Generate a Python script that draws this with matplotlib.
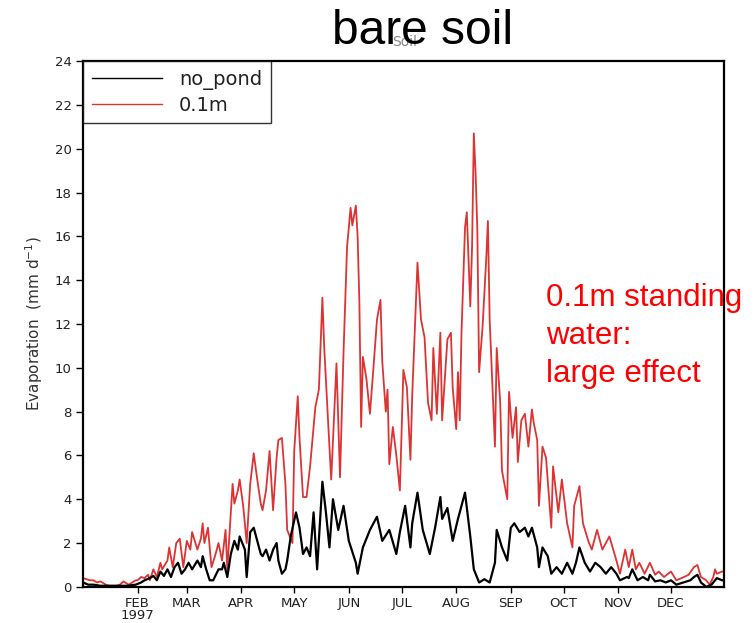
import matplotlib
matplotlib.use("Agg")
import matplotlib.pyplot as plt
from matplotlib import font_manager

# ---------------- data (1997, day-of-year index, 0 = 1 Jan) ----------------
red_days = [0, 2, 4, 6, 8, 10, 11, 13, 15, 17, 19, 21, 23, 25, 26, 28, 30, 31, 33, 35,
            37, 38, 40, 42, 44, 45, 48, 49, 51, 53, 55, 57, 59, 61, 62, 65, 67, 68, 69, 71,
            73, 75, 77, 79, 81, 82, 85, 86, 88, 89, 91, 93, 95, 97, 99, 101, 102, 104, 106, 108,
            110, 111, 113, 115, 116, 119, 120, 122, 123, 125, 127, 129, 132, 134, 136, 137, 139, 141, 143, 144,
            146, 148, 150, 152, 153, 155, 156, 157, 158, 159, 161, 163, 165, 167, 169, 170, 172, 173, 174, 176,
            178, 180, 182, 184, 186, 187, 190, 192, 194, 196, 198, 199, 201, 203, 204, 207, 209, 210, 212, 213,
            214, 215, 217, 218, 220, 221, 222, 223, 224, 225, 227, 229, 230, 231, 233, 234, 235, 237, 238, 241,
            242, 244, 246, 247, 249, 251, 253, 255, 256, 258, 259, 261, 263, 266, 267, 270, 272, 275, 278, 279,
            282, 284, 287, 289, 292, 295, 299, 303, 305, 308, 310, 312, 314, 316, 319, 322, 325, 327, 330, 334,
            337, 340, 344, 347, 349, 351, 354, 356, 358, 359, 360, 363, 364]
red_vals = [0.4, 0.35, 0.3, 0.3, 0.2, 0.25, 0.2, 0.1, 0.05, 0.05, 0.05, 0.1, 0.25, 0.15, 0.1, 0.2, 0.3, 0.3, 0.45, 0.4,
            0.55, 0.3, 0.8, 0.45, 1.1, 0.8, 1.2, 1.8, 0.9, 2.0, 2.2, 0.9, 2.1, 1.7, 2.5, 1.7, 2.2, 2.9, 2.0, 2.7,
            0.9, 1.4, 2.0, 1.2, 2.6, 0.8, 4.7, 3.8, 4.4, 4.9, 3.7, 2.0, 4.7, 6.1, 4.9, 3.8, 3.5, 4.4, 6.2, 3.5,
            5.9, 6.7, 6.8, 4.7, 2.6, 2.0, 6.2, 8.7, 6.8, 4.1, 4.1, 5.5, 8.2, 9.0, 13.2, 11.0, 7.9, 4.9, 8.5, 10.2,
            5.0, 10.7, 15.5, 17.3, 16.5, 17.4, 16.0, 13.0, 7.3, 10.5, 9.5, 7.9, 10.0, 12.2, 13.1, 10.3, 8.0, 9.0, 5.6, 7.3,
            6.0, 4.4, 9.9, 9.1, 5.8, 8.7, 14.8, 12.2, 11.4, 8.4, 7.6, 10.9, 7.9, 11.6, 7.6, 11.3, 11.6, 9.1, 7.2, 9.8,
            7.6, 11.6, 16.4, 17.1, 12.8, 15.5, 20.7, 18.9, 16.3, 9.8, 11.9, 14.9, 16.7, 12.2, 8.4, 6.4, 10.9, 8.4, 5.3, 4.0,
            8.9, 6.8, 8.2, 5.7, 7.6, 7.9, 6.4, 8.1, 7.5, 6.7, 3.7, 6.4, 5.9, 2.7, 5.5, 3.4, 4.9, 2.9, 1.8, 3.7,
            4.6, 2.9, 2.1, 1.7, 2.6, 1.7, 2.3, 1.2, 0.6, 1.7, 0.9, 1.7, 0.8, 1.1, 0.6, 1.1, 0.55, 0.7, 0.45, 0.7,
            0.3, 0.4, 0.55, 0.9, 1.0, 0.45, 0.3, 0.1, 0.45, 0.8, 0.6, 0.7, 0.7]

black_days = [0, 3, 6, 10, 15, 20, 25, 30, 33, 35, 38, 40, 42, 44, 46, 48, 50, 52, 54, 56,
              58, 60, 62, 65, 67, 68, 70, 72, 74, 77, 79, 80, 82, 84, 86, 88, 89, 92, 93, 95,
              97, 99, 101, 102, 104, 106, 108, 110, 111, 113, 115, 116, 118, 121, 123, 125, 127, 129, 131, 133,
              136, 138, 140, 142, 145, 148, 151, 155, 156, 159, 163, 167, 170, 174, 178, 180, 183, 186, 187, 190,
              193, 197, 200, 203, 204, 207, 210, 213, 217, 220, 222, 225, 228, 231, 234, 235, 238, 241, 243, 245,
              248, 251, 253, 255, 258, 259, 261, 264, 266, 269, 272, 275, 278, 280, 282, 285, 288, 291, 294, 297,
              300, 303, 305, 309, 310, 312, 315, 318, 321, 322, 325, 328, 331, 334, 337, 341, 345, 347, 349, 351,
              354, 357, 359, 360, 363, 364]
black_vals = [0.2, 0.1, 0.1, 0.05, 0.05, 0.05, 0.05, 0.1, 0.2, 0.3, 0.4, 0.5, 0.3, 0.7, 0.5, 0.8, 0.45, 0.9, 1.1, 0.6,
              0.8, 1.1, 0.8, 1.2, 0.9, 1.4, 0.8, 0.3, 0.3, 0.8, 0.8, 1.1, 0.45, 1.5, 2.1, 1.7, 2.3, 1.7, 0.45, 2.5,
              2.7, 2.1, 1.5, 1.4, 1.7, 1.2, 1.7, 2.0, 1.2, 0.6, 0.8, 1.2, 2.3, 3.4, 2.7, 1.5, 1.8, 1.4, 3.4, 0.8,
              4.8, 3.4, 1.8, 4.0, 2.6, 3.7, 2.1, 1.1, 0.6, 1.8, 2.6, 3.2, 2.1, 2.6, 1.5, 2.5, 3.7, 1.8, 2.9, 4.3,
              2.6, 1.5, 2.7, 4.1, 3.1, 3.6, 2.1, 3.1, 4.3, 2.3, 0.8, 0.2, 0.35, 0.2, 1.1, 2.6, 1.8, 1.2, 2.7, 2.9,
              2.5, 2.7, 2.3, 2.7, 1.8, 0.9, 1.8, 1.4, 0.6, 0.9, 0.6, 1.1, 0.6, 1.1, 1.8, 1.1, 0.7, 1.1, 0.9, 0.6,
              0.9, 0.6, 0.3, 0.45, 0.4, 0.8, 0.3, 0.45, 0.3, 0.55, 0.25, 0.3, 0.2, 0.3, 0.1, 0.2, 0.3, 0.45, 0.55, 0.2,
              0.0, 0.1, 0.3, 0.4, 0.3, 0.3]

month_starts = [31, 59, 90, 120, 151, 181, 212, 243, 273, 304, 334]
month_labels = ["FEB\n1997", "MAR", "APR", "MAY", "JUN", "JUL", "AUG", "SEP", "OCT", "NOV", "DEC"]
series_labels = ["no_pond", "0.1m"]

# ---------------- fonts ----------------
avail = {f.name for f in font_manager.fontManager.ttflist}
narrow = "Liberation Sans Narrow" if "Liberation Sans Narrow" in avail else "DejaVu Sans"
arial = "Liberation Sans" if "Liberation Sans" in avail else "DejaVu Sans"

fig = plt.figure(figsize=(7.54, 6.23), dpi=100)
ax = fig.add_axes([0.110, 0.058, 0.850, 0.844])

ax.plot(black_days, black_vals, color="black", lw=1.6, label=series_labels[0], zorder=3)
ax.plot(red_days, red_vals, color="#dd3333", lw=1.3, label=series_labels[1], zorder=2)

ax.set_xlim(0, 364)
ax.set_ylim(0, 24)
ax.set_yticks(range(0, 25, 2))
ax.set_xticks(month_starts)
ax.set_xticklabels(month_labels, fontfamily=narrow, fontsize=9.5, color="#222222",
                   linespacing=0.95)
for t in ax.get_yticklabels():
    t.set_fontfamily(narrow)
    t.set_fontsize(9.5)
    t.set_color("#222222")
ax.tick_params(axis="y", direction="out", length=5, width=1, pad=3)
ax.tick_params(axis="x", direction="out", length=4, width=1, pad=3)
for s in ax.spines.values():
    s.set_linewidth(1.6)

ax.set_ylabel("Evaporation  (mm d$^{-1}$)", fontfamily=narrow, fontsize=11,
              color="#333333", labelpad=7)

leg = ax.legend(loc="upper left", bbox_to_anchor=(0.0, 1.0), frameon=True, fancybox=False,
                borderaxespad=0.0, handlelength=3.6, handletextpad=0.9,
                prop={"family": narrow, "size": 14}, borderpad=0.45, labelspacing=0.3)
leg.get_frame().set_edgecolor("black")
leg.get_frame().set_linewidth(1.0)
for line in leg.get_lines():
    line.set_linewidth(1.0)
for txt in leg.get_texts():
    txt.set_color("#222222")

fig.text(0.537, 0.932, "Soil", ha="center", va="center", fontfamily=narrow, fontsize=10,
         color="#888888", zorder=1)
fig.text(0.560, 0.985, "bare soil", ha="center", va="top", fontfamily=arial, fontsize=34.5,
         color="black", zorder=2)

fig.text(0.724, 0.545, "0.1m standing\nwater:\nlarge effect", ha="left", va="top",
         fontfamily=arial, fontsize=22.5, color="#ff0000", linespacing=1.33)

fig.savefig("out.png", dpi=100)
